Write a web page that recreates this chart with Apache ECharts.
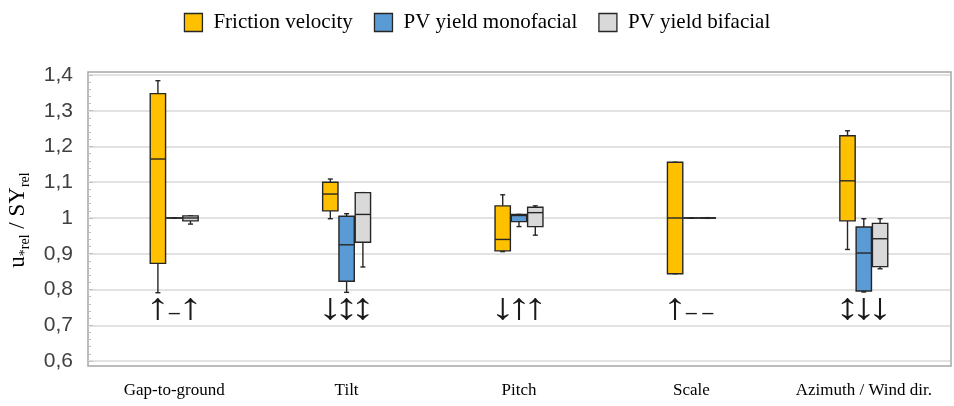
<!DOCTYPE html>
<html><head><meta charset="utf-8">
<script src="https://cdn.jsdelivr.net/npm/echarts@6/dist/echarts.min.js"></script>
<style>html,body{margin:0;padding:0;background:#fff}#c{width:954px;height:406px}</style>
</head><body><div id="c"></div>
<script>
const categories = ['Gap-to-ground', 'Tilt', 'Pitch', 'Scale', 'Azimuth / Wind dir.'];
const seriesNames = ['Friction velocity', 'PV yield monofacial', 'PV yield bifacial'];
// each entry: [min, q1, median, q3, max]
const frictionVelocity = [
  [0.791, 0.873, 1.165, 1.348, 1.384],
  [0.998, 1.020, 1.067, 1.100, 1.109],
  [0.906, 0.908, 0.940, 1.034, 1.065],
  [0.844, 0.844, 1.000, 1.156, 1.156],
  [0.912, 0.992, 1.104, 1.230, 1.244]
];
const pvYieldMonofacial = [
  [1.000, 1.000, 1.000, 1.000, 1.000],
  [0.792, 0.823, 0.925, 1.005, 1.012],
  [0.976, 0.990, 1.007, 1.010, 1.010],
  [1.000, 1.000, 1.000, 1.000, 1.000],
  [0.793, 0.796, 0.902, 0.975, 0.998]
];
const pvYieldBifacial = [
  [0.983, 0.992, 1.000, 1.006, 1.006],
  [0.863, 0.932, 1.010, 1.071, 1.071],
  [0.952, 0.976, 1.015, 1.030, 1.034],
  [0.999, 0.9995, 1.000, 1.0005, 1.001],
  [0.858, 0.864, 0.942, 0.985, 0.998]
];
const frictionArrows = ['↑', '↓', '↓', '↑', '↕'];
const monofacialArrows = ['–', '↕', '↑', '–', '↓'];
const bifacialArrows = ['↑', '↕', '↑', '–', '↓'];
const yMin = 0.6, yMax = 1.4, yInterval = 0.1;

const colors = ['#FFC000', '#5B9BD5', '#D9D9D9'];
const edge = '#262626';
const allData = [frictionVelocity, pvYieldMonofacial, pvYieldBifacial];
const allArrows = [frictionArrows, monofacialArrows, bifacialArrows];
const ARROW_LEVEL = 0.745;

function makeRender(idx) {
  return function (params, api) {
    const cat = api.value(0);
    const v = [api.value(1), api.value(2), api.value(3), api.value(4), api.value(5)];
    const band = api.size([1, 0])[0];
    const off = (idx - 1) * band * 0.0945;
    const w = band * 0.089;
    const x = api.coord([cat, v[2]])[0] + off;
    const y = v.map(val => api.coord([cat, val])[1]);
    const capW = 2.5;
    const st = { stroke: edge, lineWidth: 1.4 };
    const ay = api.coord([cat, ARROW_LEVEL])[1];
    const sym = allArrows[idx][cat];
    const isDash = sym === '–';
    return {
      type: 'group',
      children: [
        { type: 'line', shape: { x1: x, y1: y[4], x2: x, y2: y[3] }, style: st },
        { type: 'line', shape: { x1: x, y1: y[1], x2: x, y2: y[0] }, style: st },
        { type: 'line', shape: { x1: x - capW, y1: y[4], x2: x + capW, y2: y[4] }, style: st },
        { type: 'line', shape: { x1: x - capW, y1: y[0], x2: x + capW, y2: y[0] }, style: st },
        { type: 'rect', shape: { x: x - w / 2, y: y[3], width: w, height: Math.max(y[1] - y[3], 0.01) },
          style: { fill: colors[idx], stroke: edge, lineWidth: 1.4 } },
        { type: 'line', shape: { x1: x - w / 2, y1: y[2], x2: x + w / 2, y2: y[2] }, style: st },
        { type: 'text', x: x, y: isDash ? ay + 4 : ay,
          scaleX: isDash ? 1 : 1.45, scaleY: isDash ? 1 : 1.1,
          style: { text: sym, fill: '#1a1a1a', font: (isDash ? '20px "Liberation Sans"' : '34px "Liberation Sans"'),
                   align: 'center', verticalAlign: 'middle' } }
      ]
    };
  };
}

const chart = echarts.init(document.getElementById('c'), null, { renderer: 'canvas' });
chart.setOption({
  animation: false,
  backgroundColor: '#fff',
  legend: {
    top: 7, left: 'center',
    icon: 'rect', itemWidth: 18, itemHeight: 18, itemGap: 21,
    textStyle: { fontFamily: 'Liberation Serif', fontSize: 21, color: '#000', padding: [0, 0, 0, 6] },
    data: seriesNames.map((n, i) => ({ name: n, itemStyle: { color: colors[i], borderColor: edge, borderWidth: 1.3 } }))
  },
  grid: { left: 88, right: 4, top: 75, bottom: 45 },
  graphic: [
    { type: 'rect', shape: { x: 88, y: 72, width: 863, height: 294 }, style: { fill: 'none', stroke: '#a6a6a6', lineWidth: 1.5 }, z: 0 },
    { type: 'text', x: 18, y: 220, rotation: Math.PI / 2,
      style: {
        text: '{m|u}{s|*rel}{m| / SY}{s|rel}',
        align: 'center', verticalAlign: 'middle', fill: '#000',
        rich: {
          m: { fontFamily: 'Liberation Serif', fontSize: 23, lineHeight: 24, verticalAlign: 'top' },
          s: { fontFamily: 'Liberation Serif', fontSize: 14, lineHeight: 14, padding: [12, 0, 0, 0], verticalAlign: 'top' }
        }
      } }
  ],
  xAxis: {
    type: 'category', data: categories,
    axisLine: { show: false }, axisTick: { show: false },
    axisLabel: { fontFamily: 'Liberation Serif', fontSize: 17, color: '#000', margin: 21, interval: 0 },
    splitLine: { show: false }
  },
  yAxis: {
    type: 'value', min: yMin, max: yMax, interval: yInterval,
    axisLine: { show: false },
    axisTick: { show: true, inside: true, length: 5, lineStyle: { color: '#bfbfbf' } },
    minorTick: { show: true, splitNumber: 5, length: 3, lineStyle: { color: '#bfbfbf' } },
    splitLine: { lineStyle: { color: '#d9d9d9', width: 1.6 } },
    axisLabel: {
      fontFamily: 'Liberation Sans', fontSize: 21, color: '#404040', margin: 15,
      formatter: val => String(Math.round(val * 10) / 10).replace('.', ',')
    }
  },
  series: allData.map((arr, i) => ({
    type: 'custom', name: seriesNames[i],
    itemStyle: { color: colors[i] },
    encode: { x: 0, y: [1, 2, 3, 4, 5] },
    renderItem: makeRender(i),
    data: arr.map((d, k) => [k, ...d]),
    z: 3
  }))
});
</script></body></html>
